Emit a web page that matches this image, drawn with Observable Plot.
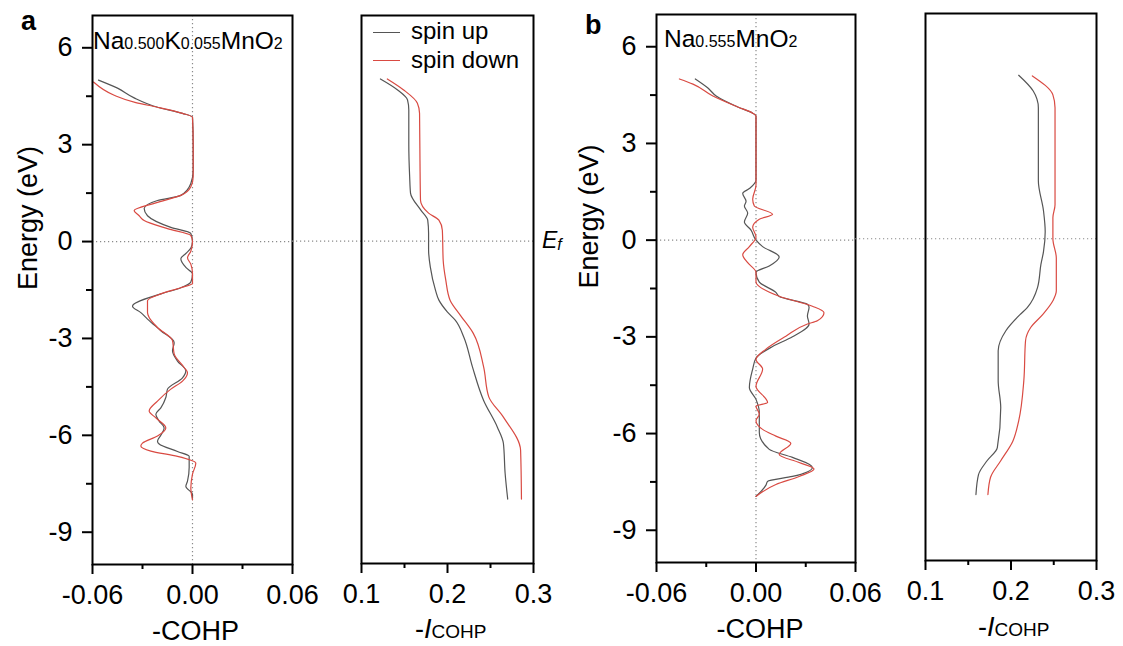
<!DOCTYPE html>
<html>
<head>
<meta charset="utf-8">
<script src="https://cdn.jsdelivr.net/npm/d3@7"></script>
<script src="https://cdn.jsdelivr.net/npm/@observablehq/plot@0.6"></script>
<style>
  body { margin: 0; background: #fff; font-family: "Liberation Sans", Arial, sans-serif; }
  #chart { position: relative; width: 1123px; height: 646px; overflow: hidden; background: #fff; }
  #chart svg { position: absolute; top: 0; }
  .lbl { position: absolute; color: #000; white-space: nowrap; line-height: 1; font-family: "Liberation Sans", Arial, sans-serif; }
</style>
</head>
<body>
<div id="chart"></div>
<script>
// ---- categories / ticks ----
const series = ["spin up", "spin down"];
const colors = ["#555555", "#d94a42"];
const energyTicks = [-9, -6, -3, 0, 3, 6];
const energyMinor = [-7.5, -4.5, -1.5, 1.5, 4.5];
const cohpTicks = [-0.06, 0, 0.06];
const cohpMinor = [-0.03, 0.03];
const icohpTicks = [0.1, 0.2, 0.3];
const icohpMinor = [0.15, 0.25];

// ---- series values: [energy (eV), value] ----
const aCohpUp = [[5.0,-0.0564],[4.75,-0.045],[4.45,-0.035],[4.16,-0.021],[3.97,-0.006],[3.85,0],[3.0,0.0004],[2.2,0.0004],[1.8,-0.001],[1.43,-0.007],[1.27,-0.021],[1.02,-0.029],[0.8,-0.027],[0.44,-0.013],[0.25,-0.001],[0,0],[-0.2,-0.001],[-0.37,-0.004],[-0.53,-0.007],[-0.8,-0.004],[-1.0,0],[-1.25,-0.001],[-1.43,-0.007],[-1.62,-0.019],[-2.0,-0.036],[-2.2,-0.031],[-2.4,-0.027],[-2.76,-0.019],[-3.13,-0.011],[-3.38,-0.012],[-3.7,-0.009],[-4.0,-0.004],[-4.22,-0.006],[-4.57,-0.015],[-4.83,-0.016],[-5.15,-0.019],[-5.35,-0.022],[-5.56,-0.020],[-5.77,-0.017],[-6.0,-0.019],[-6.18,-0.021],[-6.27,-0.020],[-6.5,-0.009],[-6.65,-0.002],[-7.0,-0.002],[-7.42,-0.003],[-7.58,-0.004],[-7.83,0],[-7.95,0]];
const aCohpDown = [[4.94,-0.0594],[4.53,-0.047],[4.3,-0.034],[4.16,-0.021],[3.97,-0.006],[3.85,0],[3.0,0.0004],[2.0,0.0004],[1.7,-0.001],[1.43,-0.007],[1.2,-0.022],[0.96,-0.035],[0.8,-0.032],[0.65,-0.029],[0.4,-0.015],[0.19,-0.001],[0,0],[-0.3,-0.001],[-0.5,-0.003],[-0.7,-0.001],[-1.0,0],[-1.3,0],[-1.43,-0.007],[-1.62,-0.019],[-1.83,-0.027],[-2.2,-0.027],[-2.35,-0.026],[-2.66,-0.021],[-3.07,-0.012],[-3.48,-0.011],[-3.9,-0.005],[-4.06,-0.003],[-4.32,-0.006],[-4.57,-0.013],[-4.94,-0.021],[-5.25,-0.026],[-5.46,-0.022],[-5.77,-0.016],[-6.02,-0.021],[-6.24,-0.030],[-6.33,-0.031],[-6.49,-0.025],[-6.65,-0.009],[-6.86,0.002],[-7.2,0],[-7.63,-0.001],[-8.0,0]];
const aIcohpUp = [[5.03,0.122],[4.69,0.142],[4.38,0.1535],[4.07,0.155],[3.0,0.155],[2.0,0.156],[1.49,0.157],[0.96,0.169],[0.65,0.177],[0.25,0.178],[-0.27,0.178],[-0.8,0.180],[-1.52,0.186],[-1.83,0.190],[-2.2,0.200],[-2.45,0.209],[-2.98,0.219],[-3.9,0.229],[-4.94,0.242],[-5.77,0.258],[-6.27,0.265],[-7.2,0.267],[-8.0,0.270]];
const aIcohpDown = [[5.03,0.130],[4.69,0.149],[4.28,0.165],[3.97,0.1675],[2.5,0.168],[1.27,0.1686],[0.87,0.178],[0.65,0.190],[0.34,0.194],[-0.6,0.195],[-1.21,0.198],[-1.83,0.203],[-2.3,0.215],[-2.86,0.230],[-3.9,0.242],[-4.83,0.248],[-5.46,0.265],[-6.49,0.285],[-8.0,0.286]];
const bCohpUp = [[5.0,-0.0366],[4.72,-0.029],[4.47,-0.024],[4.13,-0.011],[3.94,-0.002],[3.85,0],[1.86,0],[1.6,-0.004],[1.45,-0.008],[1.2,-0.006],[1.06,-0.007],[0.84,-0.005],[0.56,-0.007],[0.31,-0.003],[0,0],[-0.2,0.004],[-0.52,0.014],[-0.8,0.008],[-1.0,0],[-1.3,0.002],[-1.62,0.012],[-1.75,0.014],[-1.99,0.031],[-2.08,0.032],[-2.35,0.031],[-2.6,0.032],[-3.0,0.022],[-3.3,0.010],[-3.66,0],[-4.0,-0.002],[-4.57,-0.004],[-4.94,0],[-5.35,0.002],[-5.97,0.002],[-6.49,0.008],[-6.74,0.022],[-7.05,0.034],[-7.33,0.022],[-7.48,0.007],[-7.6,0.006],[-7.95,0]];
const bCohpDown = [[5.0,-0.0462],[4.84,-0.038],[4.47,-0.026],[4.13,-0.011],[3.94,-0.002],[3.85,0],[1.7,0],[1.27,-0.002],[1.06,-0.001],[0.8,0.010],[0.65,0.002],[0.4,-0.002],[0.1,0],[-0.2,-0.004],[-0.45,-0.008],[-0.7,-0.005],[-1.0,0],[-1.3,0],[-1.74,0.014],[-2.05,0.034],[-2.25,0.041],[-2.5,0.037],[-2.6,0.031],[-2.98,0.018],[-3.38,0.006],[-3.7,0],[-4.0,0.004],[-4.53,0],[-5.04,0.007],[-5.15,0],[-5.4,0.002],[-5.6,0],[-5.87,0.004],[-6.08,0.012],[-6.3,0.021],[-6.65,0.014],[-6.9,0.026],[-7.1,0.035],[-7.33,0.026],[-7.58,0.012],[-7.95,0]];
const bIcohpUp = [[5.08,0.209],[4.59,0.226],[4.07,0.232],[1.8,0.232],[0.87,0.238],[0.22,0.240],[-0.4,0.238],[-0.8,0.235],[-1.52,0.231],[-2.14,0.219],[-2.36,0.2105],[-2.86,0.194],[-3.48,0.185],[-4.41,0.185],[-5.25,0.188],[-6.49,0.184],[-6.9,0.172],[-7.33,0.162],[-7.95,0.159]];
const bIcohpDown = [[5.06,0.225],[4.47,0.249],[4.07,0.2515],[1.06,0.2515],[0.65,0.249],[0,0.249],[-0.6,0.253],[-1.62,0.253],[-1.93,0.249],[-2.36,0.237],[-2.76,0.223],[-3.17,0.217],[-4.41,0.215],[-5.66,0.209],[-6.3,0.202],[-6.9,0.188],[-7.42,0.176],[-7.95,0.173]];

// ---- build ----
const FONT = '"Liberation Sans", Arial, sans-serif';
const rows = (up, down) => [
  ...up.map(([e, v]) => ({e, v, spin: series[0]})),
  ...down.map(([e, v]) => ({e, v, spin: series[1]}))
];
const fmt2 = d => d.toFixed(2);
const fmt1 = d => d.toFixed(1);
const dotted = {stroke: "#8a8a8a", strokeWidth: 1.2, strokeDasharray: "1.2,2.8"};

function panel(o) {
  const marks = [];
  if (o.zeroX) marks.push(Plot.ruleX([0], dotted));
  marks.push(Plot.ruleY([0], {...dotted, insetLeft: -(o.extendLeft || 0)}));
  marks.push(Plot.line(o.data, {x: "v", y: "e", z: "spin", stroke: "spin", strokeWidth: 1.2, curve: "monotone-y"}));
  marks.push(Plot.frame({stroke: "#000", strokeWidth: 2}));
  marks.push(Plot.axisX(o.xTicks, {tickSize: 10, tickPadding: 10, strokeWidth: 2, fontSize: 27, tickFormat: o.fmt, label: null}));
  marks.push(Plot.axisX(o.xMinor, {tickSize: 5, strokeWidth: 2, tickFormat: () => "", label: null}));
  if (o.yAxis) {
    marks.push(Plot.axisY(energyTicks, {tickSize: 10, tickPadding: 10, strokeWidth: 2, fontSize: 27, tickFormat: d => String(d), label: null}));
    marks.push(Plot.axisY(energyMinor, {tickSize: 6, strokeWidth: 2, tickFormat: () => "", label: null}));
    marks.push(Plot.text(["Energy (eV)"], {text: d => d, frameAnchor: "left", rotate: -90, dx: o.yLabelDx, fontSize: 27}));
  }
  if (o.xTitle) {
    marks.push(Plot.text([o.xTitle], {text: d => d, frameAnchor: "bottom", dx: o.xTitleDx || 0, dy: 56, lineAnchor: "top", fontSize: 27}));
  }
  const svg = Plot.plot({
    width: o.width, height: 646,
    marginLeft: o.mL, marginRight: o.mR, marginTop: o.mT, marginBottom: o.mB,
    x: {domain: o.xDomain},
    y: o.yAxis ? {domain: [-10, 7]} : {domain: [-10, 7], axis: null},
    color: {domain: series, range: colors},
    style: {background: "transparent", fontFamily: FONT, color: "#000", overflow: "visible"},
    marks
  });
  svg.style.left = o.left + "px";
  document.getElementById("chart").appendChild(svg);
}

// panel a: -COHP
panel({data: rows(aCohpUp, aCohpDown), left: 0, width: 320, mL: 92, mR: 28, mT: 15, mB: 82,
  xDomain: [-0.06, 0.06], xTicks: cohpTicks, xMinor: cohpMinor, fmt: fmt2, zeroX: true,
  yAxis: true, yLabelDx: -64, xTitle: "-COHP", xTitleDx: 3});
// panel a: -ICOHP
panel({data: rows(aIcohpUp, aIcohpDown), left: 292, width: 266, mL: 69, mR: 25, mT: 15, mB: 83,
  xDomain: [0.1, 0.3], xTicks: icohpTicks, xMinor: icohpMinor, fmt: fmt1, extendLeft: 69});
// panel b: -COHP
panel({data: rows(bCohpUp, bCohpDown), left: 560, width: 320, mL: 96, mR: 25, mT: 14, mB: 84,
  xDomain: [-0.06, 0.06], xTicks: cohpTicks, xMinor: cohpMinor, fmt: fmt2, zeroX: true,
  yAxis: true, yLabelDx: -67, xTitle: "-COHP", xTitleDx: 4});
// panel b: -ICOHP
panel({data: rows(bIcohpUp, bIcohpDown), left: 855, width: 268, mL: 70, mR: 27, mT: 13, mB: 86,
  xDomain: [0.1, 0.3], xTicks: icohpTicks, xMinor: icohpMinor, fmt: fmt1, extendLeft: 70});

// ---- rich-text labels ----
const chart = document.getElementById("chart");
function label(html, left, top, style = "") {
  const d = document.createElement("div");
  d.className = "lbl";
  d.style.cssText = `left:${left}px;top:${top}px;${style}`;
  d.innerHTML = html;
  chart.appendChild(d);
}
label("a", 21, 8, "font-size:27px;font-weight:bold;");
label("b", 585, 12, "font-size:27px;font-weight:bold;");
const sub = t => `<span style="font-size:16px">${t}</span>`;
label(`Na${sub("0.500")}K${sub("0.055")}MnO${sub("2")}`, 93, 29, "font-size:24.5px;");
label(`Na${sub("0.555")}MnO${sub("2")}`, 664, 27, "font-size:24.5px;");
label(`E<span style="font-size:16px;position:relative;top:2px">f</span>`, 542, 229, "font-size:23px;font-style:italic;");
const icohpTitle = `-<i>I</i><span style="font-size:19px">COHP</span>`;
label(icohpTitle, 415, 616, "font-size:27px;");
label(icohpTitle, 978, 614, "font-size:27px;");
// legend
series.forEach((s, i) => {
  const line = document.createElement("div");
  line.style.cssText = `position:absolute;left:373px;top:${32 + i * 28}px;width:27px;height:0;border-top:1.5px solid ${colors[i]};`;
  chart.appendChild(line);
  label(s, 411, 19 + i * 29, "font-size:24px;");
});
</script>
</body>
</html>
